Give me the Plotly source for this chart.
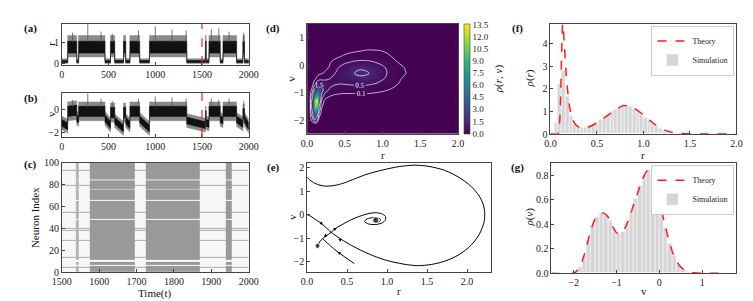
import plotly.graph_objects as go

W, H = 753, 301
def px(x): return x / W
def py(y): return 1 - y / H

# ---------------- (a),(b) time series: state segments
seg_t = [0, 63, 160, 180, 462, 521, 566, 660, 684, 729, 833, 938, 1337, 1537, 1545,
         1575, 1695, 1725, 1870, 1938, 1955, 2000]
seg_state = [0, 1, 0, 1, 0, 1, 0, 1, 0, 1, 0, 1, 0, 1, 0, 1, 0, 1, 0, 1, 0]
seg_v_start = [-1.2, -0.2, -0.8, -0.2, -0.8, -0.3, -1.0, -0.3, -1.0, -0.2, -0.9, -0.2,
               -1.0, -0.6, -1.2, -0.2, -0.9, -0.2, -0.9, -0.4, -0.9]
seg_v_end = [-1.5, -0.1, -0.9, -0.2, -1.4, -0.3, -1.7, -0.3, -1.4, -0.2, -1.7, -0.2,
             -1.4, -0.6, -1.3, -0.2, -1.0, -0.2, -1.3, -0.4, -1.5]
r_core_lo = [0.06, 0.5]
r_core_hi = [0.15, 1.05]
r_fringe_lo = [0.01, 0.32]
r_fringe_hi = [0.24, 1.32]
v_core_half = [0.3, 0.45]
v_fringe_half = [0.6, 0.82]
spike_t = [115, 278, 420, 540, 820, 1000, 1180, 1330, 1600, 1680, 1790, 1947]
r_spike_peak = [1.45, 1.85, 1.5, 1.4, 1.55, 1.75, 1.6, 1.55, 1.6, 1.65, 1.5, 1.45]
v_spike_peak = [0.8, 1.35, 0.9, 0.7, 0.9, 1.1, 1.0, 0.9, 0.9, 0.8, 0.9, 0.7]
marker_time = 1500

# ---------------- (c) raster
raster_edges = [1500, 1537, 1545, 1575, 1695, 1725, 1870, 1938, 1955, 2000]
raster_activity = [0.05, 0.45, 0.05, 0.62, 0.05, 0.62, 0.05, 0.62, 0.05]
silent_neurons = [6, 10, 48, 65]
dim_neurons = [75, 84]
tonic_neurons = [4, 13, 29, 38, 40, 54, 79, 93]

# ---------------- (d) density grid
d_r = [0.0, 0.04, 0.07, 0.1, 0.13, 0.16, 0.19, 0.23, 0.3, 0.4, 0.5, 0.6, 0.7, 0.8,
       0.9, 1.0, 1.1, 1.2, 1.3, 1.4, 2.0]
d_v = [-2.5, -2.1, -1.9, -1.7, -1.5, -1.3, -1.1, -0.9, -0.7, -0.5, -0.3, -0.1, 0.1,
       0.3, 0.5, 0.7, 1.5]
d_rho = [
    [0] * 21,
    [0, 0, 0.02, 0.08, 0.03, 0, 0, 0, 0, 0, 0, 0, 0, 0, 0, 0, 0, 0, 0, 0, 0],
    [0, 0, 0.5, 2.5, 1.2, 0.1, 0, 0, 0, 0, 0, 0, 0, 0, 0, 0, 0, 0, 0, 0, 0],
    [0, 0.02, 1.5, 7.0, 4.5, 0.6, 0.05, 0, 0, 0, 0, 0, 0, 0, 0, 0, 0, 0, 0, 0, 0],
    [0, 0.03, 2.5, 11.5, 9.0, 1.5, 0.15, 0.01, 0, 0, 0, 0, 0, 0, 0, 0, 0, 0, 0, 0, 0],
    [0, 0.03, 2.2, 12.5, 13.4, 3.5, 0.4, 0.05, 0.01, 0, 0, 0, 0, 0, 0, 0, 0, 0, 0, 0, 0],
    [0, 0.02, 1.0, 6.5, 9.0, 5.0, 1.2, 0.3, 0.12, 0.06, 0.05, 0.05, 0.05, 0.05, 0.04,
     0.03, 0.02, 0.01, 0, 0, 0],
    [0, 0, 0.2, 1.8, 4.0, 3.8, 2.2, 0.9, 0.4, 0.25, 0.2, 0.2, 0.22, 0.2, 0.17, 0.13,
     0.09, 0.05, 0.02, 0, 0],
    [0, 0, 0.03, 0.3, 0.9, 1.4, 1.3, 1.0, 0.7, 0.5, 0.5, 0.55, 0.6, 0.55, 0.45, 0.3,
     0.17, 0.1, 0.04, 0.01, 0],
    [0, 0, 0, 0.05, 0.15, 0.25, 0.3, 0.35, 0.5, 0.62, 0.8, 1.0, 1.2, 1.15, 0.9, 0.55,
     0.3, 0.14, 0.06, 0.01, 0],
    [0, 0, 0, 0.01, 0.03, 0.05, 0.08, 0.12, 0.25, 0.6, 0.95, 1.4, 1.75, 1.6, 1.15, 0.7,
     0.35, 0.2, 0.11, 0.03, 0],
    [0, 0, 0, 0, 0.01, 0.02, 0.03, 0.05, 0.12, 0.45, 0.8, 1.15, 1.35, 1.25, 0.95, 0.6,
     0.32, 0.18, 0.09, 0.03, 0],
    [0, 0, 0, 0, 0, 0.01, 0.02, 0.03, 0.08, 0.22, 0.4, 0.55, 0.62, 0.6, 0.5, 0.35, 0.2,
     0.1, 0.04, 0.01, 0],
    [0, 0, 0, 0, 0, 0, 0, 0.01, 0.03, 0.07, 0.14, 0.2, 0.24, 0.25, 0.23, 0.17, 0.11,
     0.06, 0.02, 0, 0],
    [0, 0, 0, 0, 0, 0, 0, 0, 0, 0.01, 0.04, 0.07, 0.1, 0.12, 0.12, 0.1, 0.07, 0.03,
     0.01, 0, 0],
    [0, 0, 0, 0, 0, 0, 0, 0, 0, 0, 0.01, 0.02, 0.03, 0.03, 0.02, 0.01, 0, 0, 0, 0, 0],
    [0] * 21,
]
contour_levels = [0.1, 0.5, 1.5]
cbar_ticks = [0.0, 1.5, 3.0, 4.5, 6.0, 7.5, 9.0, 10.5, 12.0, 13.5]

# ---------------- (e) phase portrait
loop_r = [0.0, 0.05, 0.1, 0.16, 0.22, 0.3, 0.36, 0.45, 0.55, 0.7, 0.85, 1.0, 1.2,
          1.38, 1.55, 1.72, 1.9, 2.05, 2.15, 2.21, 2.22, 2.2, 2.15, 2.05, 1.9, 1.72,
          1.52, 1.35, 1.15, 0.95, 0.75, 0.58, 0.45, 0.36, 0.3]
loop_v = [0.0, -0.08, -0.2, -0.33, -0.5, -0.75, -0.9, -1.1, -1.3, -1.56, -1.78,
          -1.95, -2.1, -2.17, -2.12, -1.98, -1.7, -1.3, -0.85, -0.35, 0.1, 0.45, 0.8,
          1.2, 1.58, 1.88, 2.05, 2.1, 2.04, 1.9, 1.72, 1.5, 1.33, 1.25, 1.22]
top_r = [0.3, 0.22, 0.15, 0.08, 0.03, 0.0]
top_v = [1.22, 1.21, 1.26, 1.36, 1.48, 1.58]
upper_r = [0.3, 0.35, 0.45, 0.55, 0.65, 0.75, 0.85, 0.93, 0.98, 0.98, 0.94, 0.86,
           0.77, 0.72, 0.74, 0.8, 0.88, 0.92, 0.9, 0.85, 0.82, 0.84, 0.86]
upper_v = [-0.75, -0.6, -0.4, -0.22, -0.08, 0.03, 0.08, 0.04, -0.08, -0.22, -0.35,
           -0.42, -0.4, -0.3, -0.2, -0.14, -0.14, -0.22, -0.3, -0.32, -0.27, -0.22, -0.23]
lower_r = [0.3, 0.25, 0.2, 0.16, 0.13]
lower_v = [-0.75, -0.88, -1.0, -1.15, -1.33]
extra_r = [0.59, 0.45, 0.35, 0.2]
extra_v = [-2.08, -1.75, -1.5, -1.04]
fixed_r = [0.13, 0.86]
fixed_v = [-1.33, -0.23]
arrow_tail_r = [0.15, 0.33, 0.25, 0.44, 0.43]
arrow_tail_v = [-0.3, -0.65, -0.84, -1.13, -1.7]
arrow_head_r = [0.2, 0.37, 0.21, 0.39, 0.38]
arrow_head_v = [-0.43, -0.57, -0.94, -1.03, -1.58]

# ---------------- (f)
f_r = [0.0, 0.08, 0.10, 0.11, 0.12, 0.13, 0.14, 0.15, 0.17, 0.19, 0.21, 0.24, 0.27,
       0.30, 0.35, 0.40, 0.45, 0.50, 0.60, 0.70, 0.78, 0.85, 0.90, 1.00, 1.10, 1.20,
       1.30, 1.40, 1.50, 1.70, 2.00]
f_theory = [0.0, 0.0, 0.6, 1.8, 3.6, 4.9, 4.6, 3.9, 2.6, 1.7, 1.1, 0.62, 0.42, 0.32,
            0.27, 0.3, 0.38, 0.5, 0.78, 1.08, 1.26, 1.24, 1.15, 0.85, 0.5, 0.22, 0.08,
            0.02, 0.005, 0.0, 0.0]
f_bin_centers = [0.06, 0.10, 0.14, 0.18, 0.22, 0.26, 0.30, 0.34, 0.38, 0.42, 0.46, 0.50,
                 0.54, 0.58, 0.62, 0.66, 0.70, 0.74, 0.78, 0.82, 0.86, 0.90, 0.94, 0.98,
                 1.02, 1.06, 1.10, 1.14, 1.18, 1.22, 1.26, 1.30, 1.34, 1.38, 1.42]
f_hist = [0.5, 2.2, 2.8, 1.65, 0.8, 0.45, 0.32, 0.28, 0.3, 0.36, 0.44, 0.52, 0.62, 0.74,
          0.86, 0.98, 1.1, 1.2, 1.26, 1.26, 1.22, 1.13, 1.0, 0.88, 0.74, 0.6, 0.46, 0.34,
          0.24, 0.16, 0.1, 0.06, 0.03, 0.015, 0.008]

# ---------------- (g)
g_v = [-2.5, -2.0, -1.9, -1.8, -1.7, -1.6, -1.5, -1.4, -1.3, -1.2, -1.1, -1.0, -0.9,
       -0.8, -0.7, -0.6, -0.5, -0.4, -0.3, -0.25, -0.2, -0.1, 0.0, 0.1, 0.2, 0.3, 0.4,
       0.5, 0.6, 0.7, 0.8, 1.0, 1.5]
g_theory = [0.0, 0.0, 0.03, 0.1, 0.22, 0.35, 0.44, 0.48, 0.49, 0.46, 0.39, 0.33, 0.32,
            0.37, 0.45, 0.56, 0.66, 0.76, 0.83, 0.84, 0.82, 0.73, 0.6, 0.44, 0.3, 0.18,
            0.1, 0.05, 0.025, 0.01, 0.004, 0.0, 0.0]
g_bin_centers = [-1.95, -1.85, -1.75, -1.65, -1.55, -1.45, -1.35, -1.25, -1.15, -1.05,
                 -0.95, -0.85, -0.75, -0.65, -0.55, -0.45, -0.35, -0.25, -0.15, -0.05,
                 0.05, 0.15, 0.25, 0.35, 0.45, 0.55, 0.65, 0.75]
g_hist = [0.01, 0.05, 0.14, 0.27, 0.39, 0.46, 0.49, 0.48, 0.43, 0.36, 0.32, 0.34, 0.41,
          0.5, 0.61, 0.71, 0.8, 0.84, 0.79, 0.67, 0.52, 0.37, 0.24, 0.14, 0.07, 0.035,
          0.015, 0.005]

FONT = "Liberation Serif"
RED = "#ff1a1a"
fig = go.Figure()


def band(lo_s, lo_e, hi_s, hi_e):
    xs, ys = [], []
    n = len(seg_t) - 1
    for i in range(n):
        xs += [seg_t[i], seg_t[i + 1]]
        ys += [hi_s[i], hi_e[i]]
    for i in reversed(range(n)):
        xs += [seg_t[i + 1], seg_t[i]]
        ys += [lo_e[i], lo_s[i]]
    return xs, ys


def spikes(base, peaks):
    xs, ys = [], []
    for t, p in zip(spike_t, peaks):
        xs += [t, t, None]
        ys += [base, p, None]
    return xs, ys


# (a)
for lo, hi, col in [(r_fringe_lo, r_fringe_hi, "#8a8a8a"), (r_core_lo, r_core_hi, "#111111")]:
    a = [lo[s] for s in seg_state]
    b = [hi[s] for s in seg_state]
    xs, ys = band(a, a, b, b)
    fig.add_trace(go.Scatter(x=xs, y=ys, fill="toself", fillcolor=col, mode="lines",
                             line=dict(width=0.5, color=col), xaxis="x", yaxis="y",
                             showlegend=False, hoverinfo="skip"))
xs, ys = spikes(1.0, r_spike_peak)
fig.add_trace(go.Scatter(x=xs, y=ys, mode="lines", line=dict(color="#555", width=0.8),
                         xaxis="x", yaxis="y", showlegend=False))
fig.add_trace(go.Scatter(x=[marker_time, marker_time], y=[-0.05, 1.87], mode="lines",
                         line=dict(color=RED, width=1.2, dash="dash"),
                         xaxis="x", yaxis="y", showlegend=False))

# (b)
for half, col in [(v_fringe_half, "#8a8a8a"), (v_core_half, "#111111")]:
    lo_s = [seg_v_start[i] - half[s] for i, s in enumerate(seg_state)]
    lo_e = [seg_v_end[i] - half[s] for i, s in enumerate(seg_state)]
    hi_s = [seg_v_start[i] + half[s] for i, s in enumerate(seg_state)]
    hi_e = [seg_v_end[i] + half[s] for i, s in enumerate(seg_state)]
    xs, ys = band(lo_s, lo_e, hi_s, hi_e)
    fig.add_trace(go.Scatter(x=xs, y=ys, fill="toself", fillcolor=col, mode="lines",
                             line=dict(width=0.5, color=col), xaxis="x2", yaxis="y2",
                             showlegend=False, hoverinfo="skip"))
xs, ys = spikes(0.2, v_spike_peak)
fig.add_trace(go.Scatter(x=xs, y=ys, mode="lines", line=dict(color="#555", width=0.8),
                         xaxis="x2", yaxis="y2", showlegend=False))
fig.add_trace(go.Scatter(x=[marker_time, marker_time], y=[-2.42, 1.42], mode="lines",
                         line=dict(color=RED, width=1.2, dash="dash"),
                         xaxis="x2", yaxis="y2", showlegend=False))

# (c) raster density table
z_raster = []
for n in range(100):
    row = []
    for act in raster_activity:
        if act > 0.3:
            val = act
            if n in silent_neurons:
                val = 0.02
            elif n in dim_neurons:
                val = 0.35
        else:
            val = 0.5 if n in tonic_neurons else act
        row.append(val)
    z_raster.append(row)
fig.add_trace(go.Heatmap(x=raster_edges, y=list(range(101)), z=z_raster, zmin=0, zmax=1,
                         colorscale=[[0, "#ffffff"], [1, "#5a5a5a"]], showscale=False,
                         showlegend=False, xaxis="x3", yaxis="y3", hoverinfo="skip"))

# (d)
fig.add_trace(go.Heatmap(x=d_r, y=d_v, z=d_rho, zmin=0, zmax=13.6, zsmooth="best",
                         colorscale="Viridis", xaxis="x4", yaxis="y4", hoverinfo="skip",
                         showlegend=False,
                         colorbar=dict(x=px(458), xanchor="left", y=py(10), yanchor="top",
                                       len=115 / H, lenmode="fraction", thickness=6,
                                       thicknessmode="pixels", tickvals=cbar_ticks,
                                       ticktext=[f"{t:.1f}" for t in cbar_ticks],
                                       ticks="", outlinewidth=0.6, outlinecolor="#444",
                                       xpad=0, ypad=0,
                                       tickfont=dict(family=FONT, size=9, color="#222"))))
for lvl in contour_levels:
    fig.add_trace(go.Contour(x=d_r, y=d_v, z=d_rho, autocontour=False,
                             contours=dict(start=lvl, end=lvl, size=1, coloring="none",
                                           showlabels=True,
                                           labelfont=dict(size=7, color="white", family=FONT)),
                             line=dict(color="rgba(255,255,255,0.85)", width=0.8, smoothing=1.3),
                             showscale=False, showlegend=False,
                             xaxis="x4", yaxis="y4", hoverinfo="skip"))

# (e)
for xr, yv in [(loop_r, loop_v), (top_r, top_v), (upper_r, upper_v), (lower_r, lower_v),
               (extra_r, extra_v)]:
    fig.add_trace(go.Scatter(x=xr, y=yv, mode="lines", line=dict(color="black", width=1,
                             shape="spline", smoothing=0.8),
                             xaxis="x5", yaxis="y5", showlegend=False))
fig.add_trace(go.Scatter(x=fixed_r, y=fixed_v, mode="markers",
                         marker=dict(color="black", size=[5, 6]),
                         xaxis="x5", yaxis="y5", showlegend=False))

# (f)
fig.add_trace(go.Bar(x=f_bin_centers, y=f_hist, width=0.04, name="Simulation",
                     marker=dict(color="#d6d6d6", line=dict(color="white", width=0.5)),
                     xaxis="x6", yaxis="y6", legend="legend", legendrank=2))
fig.add_trace(go.Scatter(x=f_r, y=f_theory, mode="lines", name="Theory",
                         line=dict(color=RED, width=1.5, dash="dash", shape="spline",
                                   smoothing=0.3),
                         xaxis="x6", yaxis="y6", legend="legend", legendrank=1))

# (g)
fig.add_trace(go.Bar(x=g_bin_centers, y=g_hist, width=0.1, name="Simulation",
                     marker=dict(color="#d6d6d6", line=dict(color="white", width=0.5)),
                     xaxis="x7", yaxis="y7", legend="legend2", legendrank=2))
fig.add_trace(go.Scatter(x=g_v, y=g_theory, mode="lines", name="Theory",
                         line=dict(color=RED, width=1.5, dash="dash", shape="spline",
                                   smoothing=0.8),
                         xaxis="x7", yaxis="y7", legend="legend2", legendrank=1))

annotations = []
for tr, tv, hr, hv in zip(arrow_tail_r, arrow_tail_v, arrow_head_r, arrow_head_v):
    annotations.append(dict(x=hr, y=hv, ax=tr, ay=tv, xref="x5", yref="y5", axref="x5",
                            ayref="y5", showarrow=True, arrowhead=2, arrowsize=0.8,
                            arrowwidth=0.8, arrowcolor="black", text=""))

axis_common = dict(showline=True, linecolor="#444", linewidth=0.8, mirror=True,
                   ticks="inside", ticklen=3, tickcolor="#444", showgrid=False,
                   zeroline=False, tickfont=dict(family=FONT, size=10, color="#222"))


def ax(domain, **kw):
    d = dict(axis_common)
    d["domain"] = domain
    d.update(kw)
    return d


legend_common = dict(xanchor="right", yanchor="top", bgcolor="white", bordercolor="#ccc",
                     borderwidth=1, font=dict(family=FONT, size=8, color="#222"),
                     itemwidth=30, tracegroupgap=0)

layout = dict(
    width=W, height=H, margin=dict(l=0, r=0, t=0, b=0),
    paper_bgcolor="white", plot_bgcolor="white", bargap=0,
    font=dict(family=FONT, size=10, color="#222"),
    xaxis=ax([px(45), px(237)], range=[0, 2000], tickvals=[0, 500, 1000, 1500, 2000], anchor="y"),
    yaxis=ax([py(53), py(10)], range=[-0.05, 1.87], tickvals=[0, 1], anchor="x"),
    xaxis2=ax([px(45), px(237)], range=[0, 2000], tickvals=[0, 500, 1000, 1500, 2000], anchor="y2"),
    yaxis2=ax([py(128), py(82)], range=[-2.42, 1.42], tickvals=[-2, 0], anchor="x2"),
    xaxis3=ax([px(45), px(237)], range=[1500, 2000], dtick=100, anchor="y3"),
    yaxis3=ax([py(269), py(155)], range=[0, 100], dtick=20, anchor="x3"),
    xaxis4=ax([px(297), px(452)], range=[0, 2], dtick=0.5, tickformat=".1f", anchor="y4"),
    yaxis4=ax([py(125), py(10)], range=[-2.5, 1.5], tickvals=[-2, -1, 0, 1], anchor="x4"),
    xaxis5=ax([px(297), px(486)], range=[0, 2.3], tickvals=[0, 0.5, 1, 1.5, 2],
              tickformat=".1f", anchor="y5"),
    yaxis5=ax([py(269), py(155)], range=[-2.45, 2.2], tickvals=[-2, -1, 0, 1, 2], anchor="x5"),
    xaxis6=ax([px(547), px(738)], range=[0, 2], dtick=0.5, tickformat=".1f", anchor="y6"),
    yaxis6=ax([py(125), py(10)], range=[0, 4.9], tickvals=[0, 1, 2, 3, 4], anchor="x6"),
    xaxis7=ax([px(548), px(738)], range=[-2.52, 1.8], tickvals=[-2, -1, 0, 1], anchor="y7"),
    yaxis7=ax([py(270), py(155)], range=[0, 0.9], tickvals=[0, 0.2, 0.4, 0.6, 0.8],
              tickformat=".1f", anchor="x7"),
    legend=dict(x=px(736), y=py(12), **legend_common),
    legend2=dict(x=px(736), y=py(157), **legend_common),
)


def label(text, x, y, size=11, angle=0, bold=False):
    t = f"<b>{text}</b>" if bold else text
    annotations.append(dict(text=t, x=px(x), y=py(y), xref="paper", yref="paper",
                            showarrow=False, textangle=angle,
                            font=dict(family=FONT, size=size, color="#111"),
                            xanchor="center", yanchor="middle"))


for t, x, y in [("(a)", 13, 15), ("(b)", 13, 88), ("(c)", 13, 157), ("(d)", 262, 15),
                ("(e)", 262, 160), ("(f)", 513, 15), ("(g)", 513, 160)]:
    label(t, x, y, size=11, bold=True)
label("r", 34, 31, angle=-90)
label("v", 34, 104, angle=-90)
label("Neuron Index", 17, 212, angle=-90)
label("Time(t)", 141, 291)
label("v", 281, 68, angle=-90)
label("r", 375, 147)
label("<i>ρ</i>(<i>r</i>, <i>v</i>)", 493, 67, angle=-90)
label("v", 281, 212, angle=-90)
label("r", 391, 289)
label("<i>ρ</i>(<i>r</i>)", 525, 67, angle=-90)
label("r", 642, 147)
label("<i>ρ</i>(<i>v</i>)", 525, 212, angle=-90)
label("v", 643, 289)

layout["annotations"] = annotations
fig.update_layout(**layout)
fig.write_html("out.html")
